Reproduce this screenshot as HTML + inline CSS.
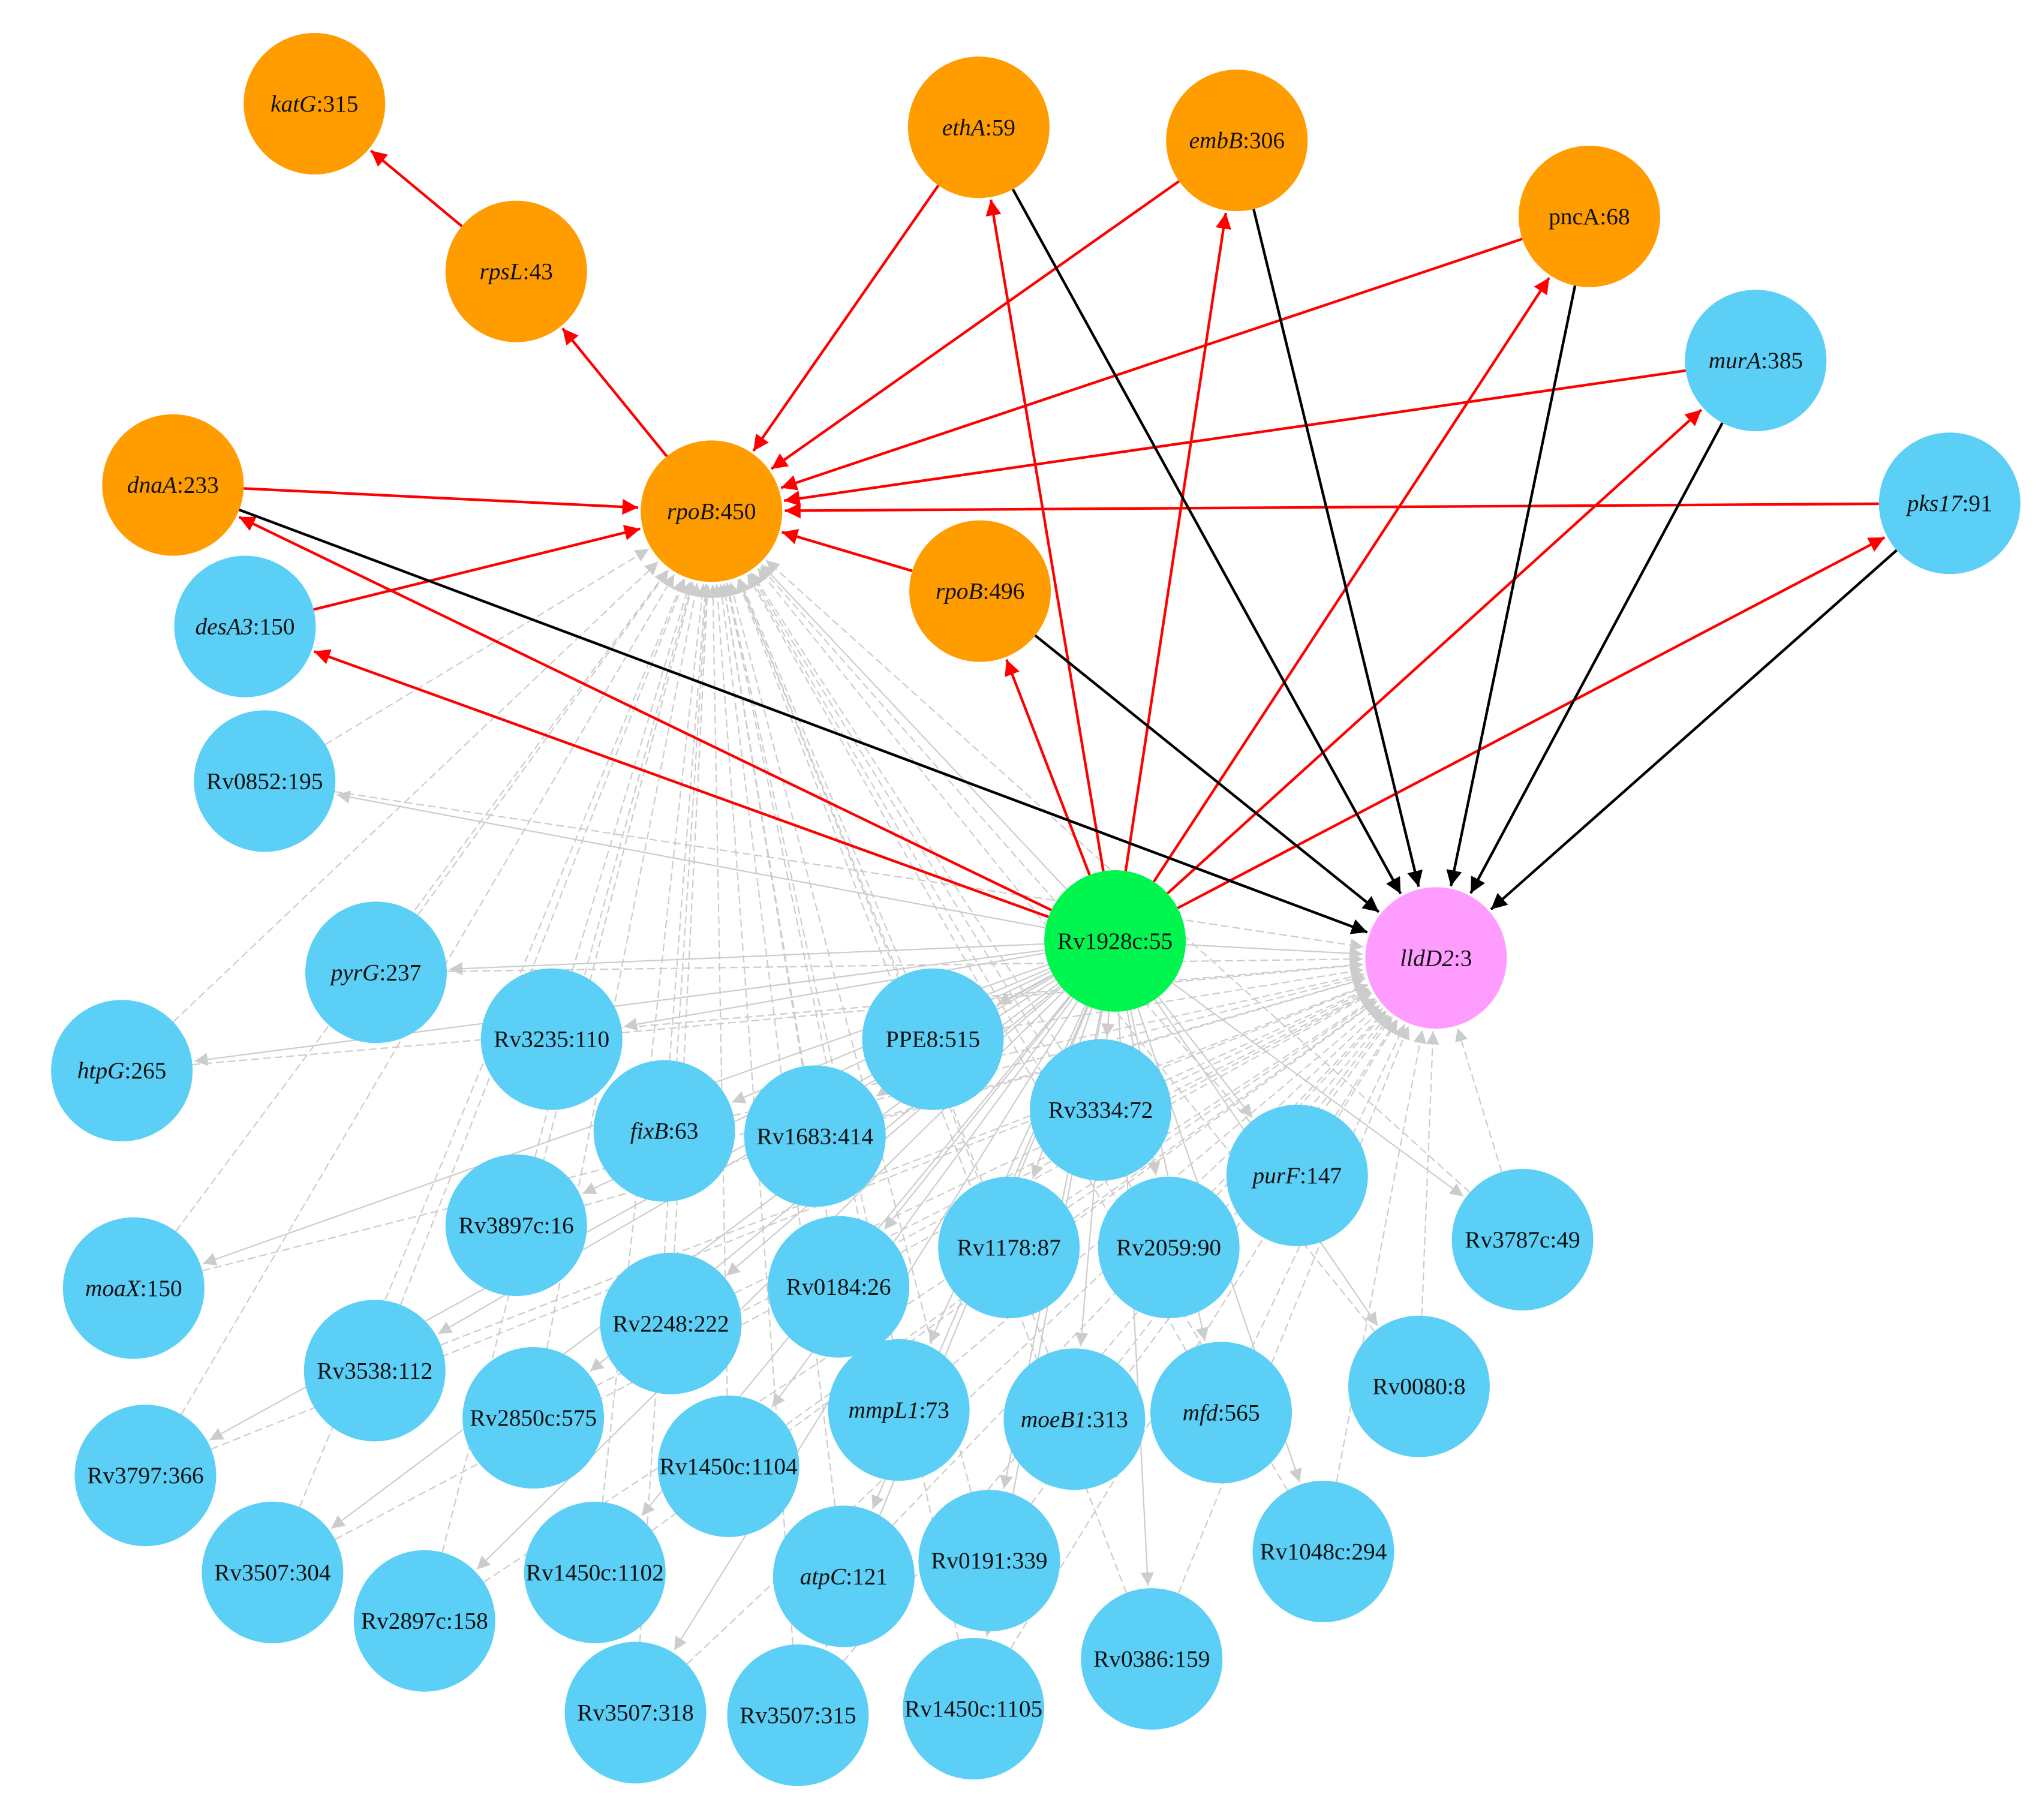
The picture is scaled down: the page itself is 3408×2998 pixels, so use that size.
<!DOCTYPE html>
<html><head><meta charset="utf-8">
<style>
html,body{margin:0;padding:0;background:#fff;width:3408px;height:2998px;overflow:hidden}
svg{display:block}
text{font-family:"Liberation Serif",serif;font-size:18px;text-anchor:middle;dominant-baseline:central;fill:#111}
</style></head><body>
<svg id="s" width="3408" height="2998" viewBox="0 0 1560 1372" xmlns="http://www.w3.org/2000/svg">
<defs>
<marker id="mr" viewBox="0 0 10 10" refX="10" refY="5" markerWidth="14" markerHeight="12" markerUnits="userSpaceOnUse" orient="auto"><path d="M0,0L10,5L0,10z" fill="#f00"/></marker>
<marker id="mb" viewBox="0 0 10 10" refX="10" refY="5" markerWidth="14" markerHeight="12" markerUnits="userSpaceOnUse" orient="auto"><path d="M0,0L10,5L0,10z" fill="#000"/></marker>
<marker id="mg" viewBox="0 0 10 10" refX="10" refY="5" markerWidth="12" markerHeight="10" markerUnits="userSpaceOnUse" orient="auto"><path d="M0,0L10,5L0,10z" fill="#ccc"/></marker>
</defs>
<g id="eg"></g><g id="ek"></g>
<g id="nodes">
<circle cx="240" cy="79" r="54" fill="#ff9c00"/><text x="240" y="79"><tspan font-style="italic">katG</tspan>:315</text>
<circle cx="394" cy="207" r="54" fill="#ff9c00"/><text x="394" y="207"><tspan font-style="italic">rpsL</tspan>:43</text>
<circle cx="747" cy="97" r="54" fill="#ff9c00"/><text x="747" y="97"><tspan font-style="italic">ethA</tspan>:59</text>
<circle cx="944" cy="107" r="54" fill="#ff9c00"/><text x="944" y="107"><tspan font-style="italic">embB</tspan>:306</text>
<circle cx="1213" cy="165" r="54" fill="#ff9c00"/><text x="1213" y="165">pncA:68</text>
<circle cx="1340" cy="275" r="54" fill="#5bcff5"/><text x="1340" y="275"><tspan font-style="italic">murA</tspan>:385</text>
<circle cx="1488" cy="384" r="54" fill="#5bcff5"/><text x="1488" y="384"><tspan font-style="italic">pks17</tspan>:91</text>
<circle cx="132" cy="370" r="54" fill="#ff9c00"/><text x="132" y="370"><tspan font-style="italic">dnaA</tspan>:233</text>
<circle cx="543" cy="390" r="54" fill="#ff9c00"/><text x="543" y="390"><tspan font-style="italic">rpoB</tspan>:450</text>
<circle cx="748" cy="451" r="54" fill="#ff9c00"/><text x="748" y="451"><tspan font-style="italic">rpoB</tspan>:496</text>
<circle cx="187" cy="478" r="54" fill="#5bcff5"/><text x="187" y="478"><tspan font-style="italic">desA3</tspan>:150</text>
<circle cx="202" cy="596" r="54" fill="#5bcff5"/><text x="202" y="596">Rv0852:195</text>
<circle cx="851" cy="718" r="54" fill="#00f54f"/><text x="851" y="718">Rv1928c:55</text>
<circle cx="1096" cy="731" r="54" fill="#ff9cff"/><text x="1096" y="731"><tspan font-style="italic">lldD2</tspan>:3</text>
<circle cx="287" cy="742" r="54" fill="#5bcff5"/><text x="287" y="742"><tspan font-style="italic">pyrG</tspan>:237</text>
<circle cx="93" cy="817" r="54" fill="#5bcff5"/><text x="93" y="817"><tspan font-style="italic">htpG</tspan>:265</text>
<circle cx="421" cy="793" r="54" fill="#5bcff5"/><text x="421" y="793">Rv3235:110</text>
<circle cx="712" cy="793" r="54" fill="#5bcff5"/><text x="712" y="793">PPE8:515</text>
<circle cx="507" cy="863" r="54" fill="#5bcff5"/><text x="507" y="863"><tspan font-style="italic">fixB</tspan>:63</text>
<circle cx="622" cy="867" r="54" fill="#5bcff5"/><text x="622" y="867">Rv1683:414</text>
<circle cx="840" cy="847" r="54" fill="#5bcff5"/><text x="840" y="847">Rv3334:72</text>
<circle cx="990" cy="897" r="54" fill="#5bcff5"/><text x="990" y="897"><tspan font-style="italic">purF</tspan>:147</text>
<circle cx="394" cy="935" r="54" fill="#5bcff5"/><text x="394" y="935">Rv3897c:16</text>
<circle cx="1162" cy="946" r="54" fill="#5bcff5"/><text x="1162" y="946">Rv3787c:49</text>
<circle cx="102" cy="983" r="54" fill="#5bcff5"/><text x="102" y="983"><tspan font-style="italic">moaX</tspan>:150</text>
<circle cx="770" cy="952" r="54" fill="#5bcff5"/><text x="770" y="952">Rv1178:87</text>
<circle cx="892" cy="952" r="54" fill="#5bcff5"/><text x="892" y="952">Rv2059:90</text>
<circle cx="640" cy="982" r="54" fill="#5bcff5"/><text x="640" y="982">Rv0184:26</text>
<circle cx="512" cy="1010" r="54" fill="#5bcff5"/><text x="512" y="1010">Rv2248:222</text>
<circle cx="286" cy="1046" r="54" fill="#5bcff5"/><text x="286" y="1046">Rv3538:112</text>
<circle cx="1083" cy="1058" r="54" fill="#5bcff5"/><text x="1083" y="1058">Rv0080:8</text>
<circle cx="686" cy="1076" r="54" fill="#5bcff5"/><text x="686" y="1076"><tspan font-style="italic">mmpL1</tspan>:73</text>
<circle cx="820" cy="1083" r="54" fill="#5bcff5"/><text x="820" y="1083"><tspan font-style="italic">moeB1</tspan>:313</text>
<circle cx="932" cy="1078" r="54" fill="#5bcff5"/><text x="932" y="1078"><tspan font-style="italic">mfd</tspan>:565</text>
<circle cx="407" cy="1082" r="54" fill="#5bcff5"/><text x="407" y="1082">Rv2850c:575</text>
<circle cx="111" cy="1126" r="54" fill="#5bcff5"/><text x="111" y="1126">Rv3797:366</text>
<circle cx="556" cy="1119" r="54" fill="#5bcff5"/><text x="556" y="1119">Rv1450c:1104</text>
<circle cx="1010" cy="1184" r="54" fill="#5bcff5"/><text x="1010" y="1184">Rv1048c:294</text>
<circle cx="208" cy="1200" r="54" fill="#5bcff5"/><text x="208" y="1200">Rv3507:304</text>
<circle cx="324" cy="1237" r="54" fill="#5bcff5"/><text x="324" y="1237">Rv2897c:158</text>
<circle cx="454" cy="1200" r="54" fill="#5bcff5"/><text x="454" y="1200">Rv1450c:1102</text>
<circle cx="644" cy="1203" r="54" fill="#5bcff5"/><text x="644" y="1203"><tspan font-style="italic">atpC</tspan>:121</text>
<circle cx="755" cy="1191" r="54" fill="#5bcff5"/><text x="755" y="1191">Rv0191:339</text>
<circle cx="879" cy="1266" r="54" fill="#5bcff5"/><text x="879" y="1266">Rv0386:159</text>
<circle cx="485" cy="1307" r="54" fill="#5bcff5"/><text x="485" y="1307">Rv3507:318</text>
<circle cx="609" cy="1309" r="54" fill="#5bcff5"/><text x="609" y="1309">Rv3507:315</text>
<circle cx="743" cy="1304" r="54" fill="#5bcff5"/><text x="743" y="1304">Rv1450c:1105</text>
</g>
</svg>
<script>
var N={katG:[240,79],rpsL:[394,207],ethA:[747,97],embB:[944,107],pncA:[1213,165],murA:[1340,275],pks17:[1488,384],dnaA:[132,370],rpoB450:[543,390],rpoB496:[748,451],desA3:[187,478],Rv0852:[202,596],Rv1928c:[851,718],lldD2:[1096,731],pyrG:[287,742],htpG:[93,817],Rv3235:[421,793],PPE8:[712,793],fixB:[507,863],Rv1683:[622,867],Rv3334:[840,847],purF:[990,897],Rv3897c:[394,935],Rv3787c:[1162,946],moaX:[102,983],Rv1178:[770,952],Rv2059:[892,952],Rv0184:[640,982],Rv2248:[512,1010],Rv3538:[286,1046],Rv0080:[1083,1058],mmpL1:[686,1076],moeB1:[820,1083],mfd:[932,1078],Rv2850c:[407,1082],Rv3797:[111,1126],R1104:[556,1119],Rv1048c:[1010,1184],R304:[208,1200],Rv2897c:[324,1237],R1102:[454,1200],atpC:[644,1203],Rv0191:[755,1191],Rv0386:[879,1266],R318:[485,1307],R315:[609,1309],R1105:[743,1304]};
var NS="http://www.w3.org/2000/svg";
function E(a,b,c,m,w,g,dash){var p=N[a],q=N[b],dx=q[0]-p[0],dy=q[1]-p[1],L=Math.hypot(dx,dy),ux=dx/L,uy=dy/L;
var l=document.createElementNS(NS,"line");l.setAttribute("x1",p[0]+ux*54);l.setAttribute("y1",p[1]+uy*54);l.setAttribute("x2",q[0]-ux*56);l.setAttribute("y2",q[1]-uy*56);
l.setAttribute("stroke",c);l.setAttribute("stroke-width",w);l.setAttribute("marker-end","url(#"+m+")");if(dash)l.setAttribute("stroke-dasharray",dash);document.getElementById(g).appendChild(l);}
var blue=["Rv0852","pyrG","htpG","Rv3235","PPE8","fixB","Rv1683","Rv3334","purF","Rv3897c","Rv3787c","moaX","Rv1178","Rv2059","Rv0184","Rv2248","Rv3538","Rv0080","mmpL1","moeB1","mfd","Rv2850c","Rv3797","R1104","Rv1048c","R304","Rv2897c","R1102","atpC","Rv0191","Rv0386","R318","R315","R1105"];
blue.forEach(function(b){E(b,"rpoB450","#ccc","mg",1,"eg","6,3");E(b,"lldD2","#ccc","mg",1,"eg","6,3");E("Rv1928c",b,"#ccc","mg",1,"eg");});
E("Rv1928c","rpoB450","#ccc","mg",1,"eg");E("Rv1928c","lldD2","#ccc","mg",1,"eg");
[["rpsL","katG"],["rpoB450","rpsL"],["ethA","rpoB450"],["embB","rpoB450"],["pncA","rpoB450"],["murA","rpoB450"],["pks17","rpoB450"],["dnaA","rpoB450"],["desA3","rpoB450"],["rpoB496","rpoB450"],["Rv1928c","dnaA"],["Rv1928c","desA3"],["Rv1928c","rpoB496"],["Rv1928c","ethA"],["Rv1928c","embB"],["Rv1928c","pncA"],["Rv1928c","murA"],["Rv1928c","pks17"]].forEach(function(e){E(e[0],e[1],"#f00","mr",2,"ek");});
["ethA","embB","pncA","murA","pks17","dnaA","rpoB496"].forEach(function(a){E(a,"lldD2","#000","mb",2,"ek");});
</script>
</body></html>
